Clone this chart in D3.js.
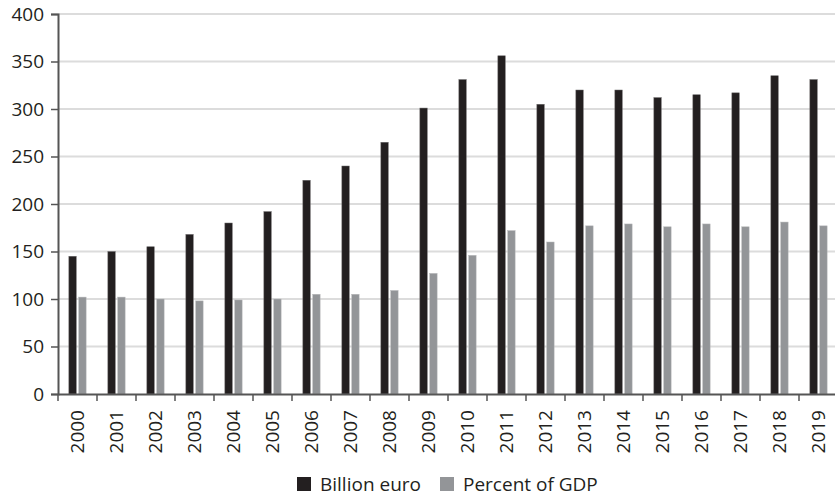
<!DOCTYPE html>
<html>
<head>
<meta charset="utf-8">
<script src="https://cdn.jsdelivr.net/npm/d3@7"></script>
<style>
  body { margin: 0; background: #fff; }
  svg { display: block; }
  text { font-family: "Open Sans", sans-serif; fill: #231f20; }
</style>
</head>
<body>
<svg id="chart" width="835" height="496"></svg>
<script>
const years = ["2000","2001","2002","2003","2004","2005","2006","2007","2008","2009","2010","2011","2012","2013","2014","2015","2016","2017","2018","2019"];
const billionEuro = [145,150,155,168,180,192,225,240,265,301,331,356,305,320,320,312,315,317,335,331];
const percentGDP = [102,102,100,98,99,100,105,105,109,127,146,172,160,177,179,176,179,176,181,177];
const yTicks = [0,50,100,150,200,250,300,350,400];
const seriesNames = ["Billion euro","Percent of GDP"];
const seriesColors = ["#231f20","#939598"];

const svg = d3.select("#chart");
const mLeft = 58, mRight = 838, mTop = 14, mBottom = 394;
const fontSize = "19px";

const x = d3.scaleBand().domain(years).range([mLeft, mRight]).paddingInner(0).paddingOuter(0);
const y = d3.scaleLinear().domain([0, 400]).range([mBottom, mTop]);
const inner = d3.scaleBand().domain(seriesNames).range([0, x.bandwidth()]).paddingInner(0.25).paddingOuter(1.1);

// gridlines
svg.append("g").selectAll("line").data(yTicks.filter(d => d > 0)).join("line")
  .attr("x1", mLeft).attr("x2", 835)
  .attr("y1", d => y(d)).attr("y2", d => y(d))
  .attr("stroke", "#dcdcdc").attr("stroke-width", 2);

// bars
const data = years.map((yr, i) => ({ year: yr, vals: [billionEuro[i], percentGDP[i]] }));
const groups = svg.append("g").selectAll("g").data(data).join("g")
  .attr("transform", d => `translate(${x(d.year)},0)`);
groups.selectAll("rect").data(d => d.vals.map((v, j) => ({ v, j }))).join("rect")
  .attr("x", d => inner(seriesNames[d.j]))
  .attr("width", inner.bandwidth())
  .attr("y", d => y(d.v))
  .attr("height", d => y(0) - y(d.v))
  .attr("fill", d => seriesColors[d.j])
  .attr("stroke", d => d.j === 0 ? "#6d6b6c" : "#b9babc")
  .attr("stroke-width", 0.5);

// y axis
const yAxis = svg.append("g").attr("transform", `translate(${mLeft},0)`)
  .call(d3.axisLeft(y).tickValues(yTicks).tickSize(7).tickPadding(7));
yAxis.select(".domain").attr("stroke", "#555").attr("stroke-width", 2);
yAxis.selectAll(".tick line").attr("stroke", "#555").attr("stroke-width", 1.5);
yAxis.selectAll(".tick text").style("font-size", fontSize).style("font-family", "'Open Sans', sans-serif").attr("fill", "#231f20");

// x axis
const xAxis = svg.append("g").attr("transform", `translate(0,${mBottom})`)
  .call(d3.axisBottom(x).tickSize(0).tickPadding(0));
xAxis.select(".domain").attr("stroke", "#555").attr("stroke-width", 2);
xAxis.selectAll(".tick line").remove();
const bounds = years.map(yr => x(yr)).concat([mRight]);
xAxis.append("g").selectAll("line").data(bounds).join("line")
  .attr("x1", d => d).attr("x2", d => d).attr("y1", 0).attr("y2", 7)
  .attr("stroke", "#555").attr("stroke-width", 1.5);
xAxis.selectAll(".tick text")
  .style("font-size", fontSize).style("font-family", "'Open Sans', sans-serif").attr("fill", "#231f20")
  .attr("transform", "rotate(-90)")
  .attr("text-anchor", "end")
  .attr("dy", "0.35em")
  .attr("x", -16).attr("y", 0);

// legend
const legend = svg.append("g");
const legX = [297, 440];
seriesNames.forEach((name, i) => {
  legend.append("rect").attr("x", legX[i]).attr("y", 477).attr("width", 14).attr("height", 14)
    .attr("fill", seriesColors[i]);
  legend.append("text").attr("x", legX[i] + 23).attr("y", 484).attr("dy", "0.35em")
    .style("font-size", fontSize).text(name);
});
</script>
</body>
</html>
